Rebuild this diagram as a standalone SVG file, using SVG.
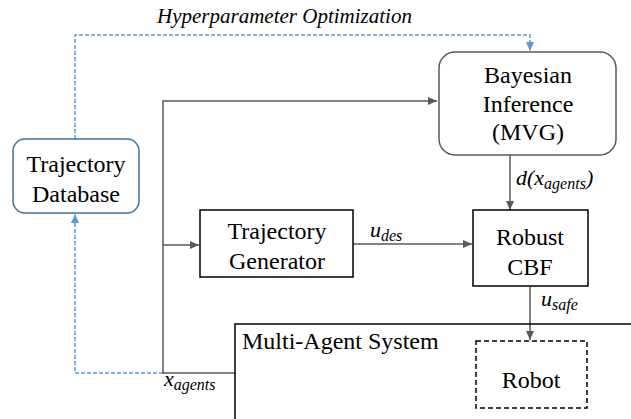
<svg xmlns="http://www.w3.org/2000/svg" width="631" height="419" viewBox="0 0 631 419">
<defs>
<style>
text{font-family:"Liberation Serif","Times New Roman",serif;fill:#000}
.t{font-size:24px;text-anchor:middle}
.m{font-style:italic;font-size:22px}
.s{font-size:16px}
.box{fill:#fff;stroke:#000;stroke-width:1.5}
.c{fill:none;stroke:#595959;stroke-width:1.5}
.b{fill:none;stroke:#5B9BD5;stroke-width:1.5;stroke-dasharray:4 2}
</style>
<marker id="ag" markerWidth="10" markerHeight="10" refX="9" refY="5" orient="auto" markerUnits="userSpaceOnUse"><path d="M0,1 L9,5 L0,9 z" fill="#595959"/></marker>
<marker id="ab" markerWidth="10" markerHeight="10" refX="9" refY="5" orient="auto" markerUnits="userSpaceOnUse"><path d="M0,1 L9,5 L0,9 z" fill="#5B9BD5"/></marker>
</defs>
<rect width="631" height="419" fill="#fff"/>
<g id="connectors">
<path class="b" d="M75,139 V35 H530 V51" marker-end="url(#ab)"/>
<path class="b" d="M163,373 H75 V214" marker-end="url(#ab)"/>
<path class="c" d="M235,373 H163 V101 H437" marker-end="url(#ag)"/>
<path class="c" d="M163,245 H199" marker-end="url(#ag)"/>
<path class="c" d="M353,244 H472" marker-end="url(#ag)"/>
<path class="c" d="M510,155 V210" marker-end="url(#ag)"/>
<path class="c" d="M530,287 V340" marker-end="url(#ag)"/>
<text x="157" y="23" font-style="italic" font-size="21">Hyperparameter Optimization</text>
<text class="m" x="516" y="185">d(x<tspan class="s" dy="4">agents</tspan><tspan dy="-4">)</tspan></text>
<text class="m" x="370" y="237">u<tspan class="s" dy="4">des</tspan></text>
<text class="m" x="541" y="306">u<tspan class="s" dy="4">safe</tspan></text>
<text class="m" x="164" y="386">x<tspan class="s" dy="4">agents</tspan></text>
</g>
<g id="bayes"><rect x="439" y="52" width="177" height="103" rx="16" style="fill:#fff;stroke:#595959;stroke-width:1.5"/>
<text class="t" x="528" y="83">Bayesian</text><text class="t" x="528" y="112">Inference</text><text class="t" x="528" y="140">(MVG)</text></g>
<g id="database"><rect x="13" y="139" width="126" height="74" rx="12" fill="#fff" stroke="#41719C" stroke-width="1.5"/>
<text class="t" x="76" y="172">Trajectory</text><text class="t" x="76" y="202">Database</text></g>
<g id="generator"><rect class="box" x="200" y="210" width="153" height="67"/>
<text class="t" x="277" y="239">Trajectory</text><text class="t" x="277" y="269">Generator</text></g>
<g id="cbf"><rect class="box" x="473" y="210" width="115" height="76"/>
<text class="t" x="530" y="245">Robust</text><text class="t" x="530" y="275">CBF</text></g>
<g id="mas"><path d="M235,419 V324 H631" fill="none" stroke="#000" stroke-width="1.5"/>
<text x="242" y="349" font-size="24">Multi-Agent System</text></g>
<g id="robot"><rect x="476" y="341" width="111" height="67" fill="#fff" stroke="#000" stroke-width="1.5" stroke-dasharray="5 3"/>
<text class="t" x="531" y="388">Robot</text></g>
</svg>
